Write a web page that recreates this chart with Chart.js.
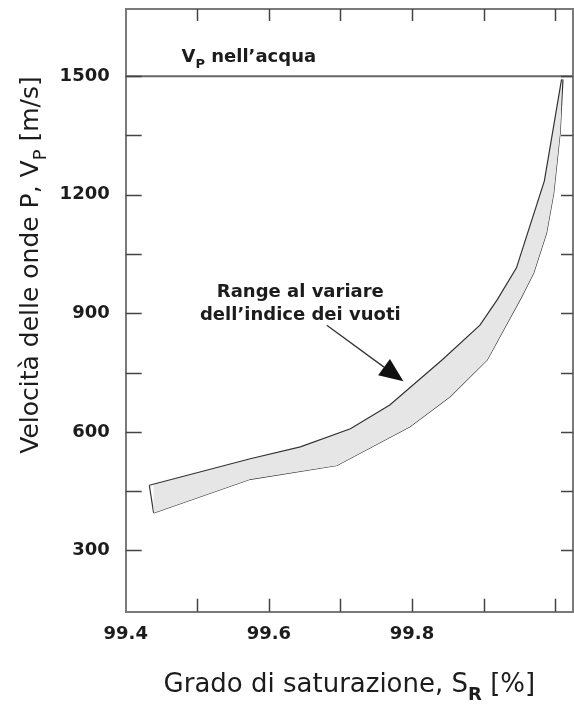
<!DOCTYPE html>
<html>
<head>
<meta charset="utf-8">
<script src="https://cdn.jsdelivr.net/npm/chart.js@4.4.1/dist/chart.umd.min.js"></script>
<style>
  html, body { margin: 0; padding: 0; background: #fff; }
  canvas { display: block; }
</style>
</head>
<body>
<canvas id="vp-chart" width="574" height="706"></canvas>
<script>
/* ---- values ---- */

// upper edge of the band (degree of saturation %, P-wave velocity m/s)
const upperS  = [99.433, 99.574, 99.644, 99.714, 99.769, 99.842, 99.895, 99.919, 99.946, 99.985, 100.009];
const upperVp = [465,    532,    562,    608,    668,    782,    870,    934,    1015,   1235,   1492];

// lower edge of the band
const lowerS  = [99.439, 99.574, 99.695, 99.797, 99.853, 99.905, 99.953, 99.970, 99.988, 99.998, 100.007, 100.011];
const lowerVp = [395,    480,    515,    613,    689,    782,    941,    1002,   1103,   1204,   1357,    1492];

// velocity of P waves in water
const waterVp = 1500;

// axes
const xMin = 99.4, xMax = 100.025;
const yMin = 145, yMax = 1670;
const xTicks = [99.4, 99.5, 99.6, 99.7, 99.8, 99.9, 100.0];
const xTickLabels = ['99.4', '99.6', '99.8'];
const yTicks = [300, 450, 600, 750, 900, 1050, 1200, 1350, 1500];
const yTickLabels = ['300', '600', '900', '1200', '1500'];

// annotations (data coordinates)
const noteLines = ['Range al variare', 'dell\u2019indice dei vuoti'];
const noteS = 99.644;
const noteVp = [954, 896];
const arrowFrom = { s: 99.681, vp: 870 };
const arrowTo = { s: 99.788, vp: 728 };
const waterLabelAt = { s: 99.478, vp: 1535 };

/* ---- styles ---- */
const FONT = "'DejaVu Sans', sans-serif";
const frameColor = '#7a7a7a';
const tickColor = '#444';
const inkColor = '#1c1c1c';

function toPoints(xs, ys) {
    return xs.map((x, i) => ({ x: x, y: ys[i] }));
}

/* draw text made of pieces (for subscripts) */
function partsWidth(ctx, parts) {
    let w = 0;
    parts.forEach(p => { ctx.font = p.font; w += ctx.measureText(p.text).width; });
    return w;
}
function drawParts(ctx, parts, x, y) {
    let cx = x;
    parts.forEach(p => {
        ctx.font = p.font;
        ctx.fillText(p.text, cx, y + (p.dy || 0));
        cx += ctx.measureText(p.text).width;
    });
}

/* keep the plot area where the figure has it */
function noPad(scale) {
    scale.paddingTop = 0;
    scale.paddingBottom = 0;
    scale.paddingLeft = 0;
    scale.paddingRight = 0;
}

/* frame, inward ticks, titles and notes */
const decorPlugin = {
    id: 'decor',
    afterDraw(chart) {
        const ctx = chart.ctx;
        const area = chart.chartArea;
        const xs = chart.scales.x, ys = chart.scales.y;

        ctx.save();

        // top and right sides of the frame
        ctx.strokeStyle = frameColor;
        ctx.lineWidth = 2;
        ctx.beginPath();
        ctx.moveTo(area.left, area.top);
        ctx.lineTo(area.right, area.top);
        ctx.lineTo(area.right, area.bottom);
        ctx.stroke();

        // ticks pointing into the plot
        ctx.strokeStyle = tickColor;
        ctx.lineWidth = 1.5;
        ctx.beginPath();
        xTicks.slice(1).forEach(v => {
            const px = Math.round(xs.getPixelForValue(v)) + 0.5;
            ctx.moveTo(px, area.bottom);
            ctx.lineTo(px, area.bottom - 13);
            ctx.moveTo(px, area.top);
            ctx.lineTo(px, area.top + 12);
        });
        yTicks.forEach(v => {
            const py = Math.round(ys.getPixelForValue(v)) + 0.5;
            ctx.moveTo(area.left, py);
            ctx.lineTo(area.left + 16, py);
            ctx.moveTo(area.right, py);
            ctx.lineTo(area.right - 12, py);
        });
        ctx.stroke();

        ctx.fillStyle = inkColor;
        ctx.textBaseline = 'alphabetic';

        // "V_P nell'acqua"
        const wx = xs.getPixelForValue(waterLabelAt.s);
        const wy = ys.getPixelForValue(waterLabelAt.vp);
        drawParts(ctx, [
            { text: 'V', font: 'bold 18px ' + FONT },
            { text: 'P', font: 'bold 13px ' + FONT, dy: 6 },
            { text: ' nell\u2019acqua', font: 'bold 18px ' + FONT }
        ], wx, wy);

        // range note
        ctx.font = 'bold 18px ' + FONT;
        ctx.textAlign = 'center';
        ctx.textBaseline = 'middle';
        noteLines.forEach((line, i) => {
            ctx.fillText(line, xs.getPixelForValue(noteS), ys.getPixelForValue(noteVp[i]));
        });

        // arrow
        const ax0 = xs.getPixelForValue(arrowFrom.s), ay0 = ys.getPixelForValue(arrowFrom.vp);
        const ax1 = xs.getPixelForValue(arrowTo.s), ay1 = ys.getPixelForValue(arrowTo.vp);
        const ang = Math.atan2(ay1 - ay0, ax1 - ax0);
        const headLen = 24, headHalf = 10;
        const bx = ax1 - headLen * Math.cos(ang), by = ay1 - headLen * Math.sin(ang);
        ctx.strokeStyle = '#333';
        ctx.lineWidth = 1.3;
        ctx.beginPath();
        ctx.moveTo(ax0, ay0);
        ctx.lineTo(bx, by);
        ctx.stroke();
        ctx.fillStyle = '#111';
        ctx.beginPath();
        ctx.moveTo(ax1, ay1);
        ctx.lineTo(bx + headHalf * Math.sin(ang), by - headHalf * Math.cos(ang));
        ctx.lineTo(bx - headHalf * Math.sin(ang), by + headHalf * Math.cos(ang));
        ctx.closePath();
        ctx.fill();

        // axis titles
        ctx.fillStyle = inkColor;
        ctx.textAlign = 'left';
        ctx.textBaseline = 'alphabetic';

        const xTitle = [
            { text: 'Grado di saturazione, S', font: '26px ' + FONT },
            { text: 'R', font: 'bold 18px ' + FONT, dy: 8 },
            { text: ' [%]', font: '26px ' + FONT }
        ];
        const xCenter = (area.left + area.right) / 2;
        drawParts(ctx, xTitle, xCenter - partsWidth(ctx, xTitle) / 2, 692);

        const yTitle = [
            { text: 'Velocit\u00e0 delle onde P, V', font: '25px ' + FONT },
            { text: 'P', font: '18px ' + FONT, dy: 8 },
            { text: ' [m/s]', font: '25px ' + FONT }
        ];
        ctx.translate(38, 265);
        ctx.rotate(-Math.PI / 2);
        drawParts(ctx, yTitle, -partsWidth(ctx, yTitle) / 2, 0);

        ctx.restore();
    }
};

/* Build the chart */
const bandLine = { borderColor: '#333', borderWidth: 1.2, pointRadius: 0, tension: 0 };

const chart = new Chart(document.getElementById('vp-chart'), {
    type: 'line',
    data: {
        datasets: [
            Object.assign({ label: 'upper', data: toPoints(upperS, upperVp), fill: '+1', backgroundColor: '#e6e6e6' }, bandLine),
            Object.assign({ label: 'lower', data: toPoints(lowerS, lowerVp), fill: false }, bandLine),
            Object.assign({ label: 'edge', data: [toPoints(upperS, upperVp)[0], toPoints(lowerS, lowerVp)[0]], fill: false }, bandLine),
            { label: 'water', data: [{ x: xMin, y: waterVp }, { x: xMax, y: waterVp }],
              borderColor: '#666', borderWidth: 2, pointRadius: 0, fill: false }
        ]
    },
    options: {
        responsive: false,
        animation: false,
        devicePixelRatio: 1,
        layout: { padding: { top: 9, right: 1, left: 0, bottom: 0 } },
        plugins: {
            legend: { display: false },
            tooltip: { enabled: false }
        },
        scales: {
            x: {
                type: 'linear',
                min: xMin,
                max: xMax,
                afterBuildTicks: (scale) => { scale.ticks = xTicks.map(v => ({ value: v })); },
                afterFit: (scale) => { scale.height = 94.3; noPad(scale); },
                grid: { display: false, drawTicks: false },
                border: { display: true, color: frameColor, width: 2 },
                ticks: {
                    autoSkip: false,
                    maxRotation: 0,
                    padding: 12,
                    color: inkColor,
                    font: { family: FONT, weight: 'bold', size: 18 },
                    callback: (v) => xTickLabels.includes(Number(v).toFixed(1)) ? Number(v).toFixed(1) : ''
                }
            },
            y: {
                type: 'linear',
                min: yMin,
                max: yMax,
                afterBuildTicks: (scale) => { scale.ticks = yTicks.map(v => ({ value: v })); },
                afterFit: (scale) => { scale.width = 125.7; noPad(scale); },
                grid: { display: false, drawTicks: false },
                border: { display: true, color: frameColor, width: 2 },
                ticks: {
                    autoSkip: false,
                    padding: 16,
                    color: inkColor,
                    font: { family: FONT, weight: 'bold', size: 18 },
                    callback: (v) => yTickLabels.includes(String(v)) ? String(v) : ''
                }
            }
        }
    },
    plugins: [decorPlugin]
});
</script>
</body>
</html>
